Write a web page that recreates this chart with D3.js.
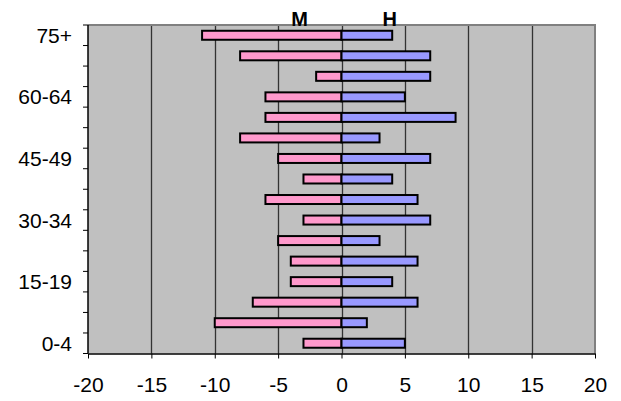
<!DOCTYPE html>
<html><head><meta charset="utf-8">
<script src="https://cdn.jsdelivr.net/npm/d3@7"></script>
<style>body{margin:0;background:#fff;}svg{display:block;font-family:"Liberation Sans",Arial,sans-serif;}</style>
</head><body><svg id="c" width="621" height="401"></svg>
<script>
const ageGroups = ["0-4","5-9","10-14","15-19","20-24","25-29","30-34","35-39","40-44","45-49","50-54","55-59","60-64","65-69","70-74","75+"];
const mujeres = [-3,-10,-7,-4,-4,-5,-3,-6,-3,-5,-8,-6,-6,-2,-8,-11];
const hombres = [5,2,6,4,6,3,7,6,4,7,3,9,5,7,7,4];
const xTicks = [-20,-15,-10,-5,0,5,10,15,20];
const shownLabels = ["0-4","15-19","30-34","45-49","60-64","75+"];
const seriesNames = ["M","H"];

const L=88, R=595, T=25, B=353.5;
const svg = d3.select("#c");
const x = d3.scaleLinear().domain([-20,20]).range([L,R]);
const y = d3.scaleBand().domain(ageGroups.slice().reverse()).range([T,B]);

svg.append("rect").attr("x",L).attr("y",T).attr("width",R-L).attr("height",B-T).attr("fill","#c0c0c0");
svg.append("g").selectAll("line").data(xTicks.slice(1,-1)).join("line")
  .attr("x1",d=>Math.round(x(d))+0.5).attr("x2",d=>Math.round(x(d))+0.5).attr("y1",T).attr("y2",B)
  .attr("stroke","#333").attr("stroke-width",1.3);
svg.append("path").attr("d",`M${L},${T}H${R}V${B}`).attr("fill","none").attr("stroke","#808080").attr("stroke-width",2);

const bh = 9;
const data = ageGroups.map((g,i)=>({g, m:mujeres[i], h:hombres[i]}));
const bars = svg.append("g");
bars.selectAll("rect.m").data(data).join("rect").attr("class","m")
  .attr("x",d=>x(d.m)).attr("width",d=>x(0)-x(d.m))
  .attr("y",d=>y(d.g)+y.bandwidth()/2-bh/2).attr("height",bh)
  .attr("fill","#ff99cc").attr("stroke","#000").attr("stroke-width",2);
bars.selectAll("rect.h").data(data).join("rect").attr("class","h")
  .attr("x",x(0)).attr("width",d=>x(d.h)-x(0))
  .attr("y",d=>y(d.g)+y.bandwidth()/2-bh/2).attr("height",bh)
  .attr("fill","#9999ff").attr("stroke","#000").attr("stroke-width",2);

const xa = svg.append("g").attr("transform",`translate(0,${B})`)
  .call(d3.axisBottom(x).tickValues(xTicks).tickFormat(d=>String(d)).tickSize(5).tickPadding(19).tickSizeOuter(0));
xa.select(".domain").attr("stroke","#000").attr("stroke-width",1.5);
xa.selectAll(".tick line").attr("stroke","#000");
xa.selectAll("text").attr("font-size",21).attr("fill","#000").attr("font-family","Liberation Sans, Arial, sans-serif");

const ya = svg.append("g").attr("transform",`translate(${L},0)`);
ya.append("line").attr("x1",0).attr("x2",0).attr("y1",T).attr("y2",B).attr("stroke","#000").attr("stroke-width",1.5);
const bounds = d3.range(ageGroups.length+1).map(i=>T+i*y.step());
ya.selectAll("line.t").data(bounds).join("line").attr("class","t")
  .attr("x1",-5).attr("x2",0).attr("y1",d=>d).attr("y2",d=>d).attr("stroke","#000");
ya.selectAll("text").data(shownLabels).join("text")
  .attr("x",-16).attr("y",d=>y(d)+y.bandwidth()/2).attr("dy","0.36em")
  .attr("text-anchor","end").attr("font-size",21).text(d=>d);

svg.selectAll("text.s").data(seriesNames).join("text").attr("class","s")
  .attr("x",(d,i)=>i===0?x(-3.3):x(3.8)).attr("y",26)
  .attr("text-anchor","middle").attr("font-weight","bold").attr("font-size",20).text(d=>d);
</script></body></html>
